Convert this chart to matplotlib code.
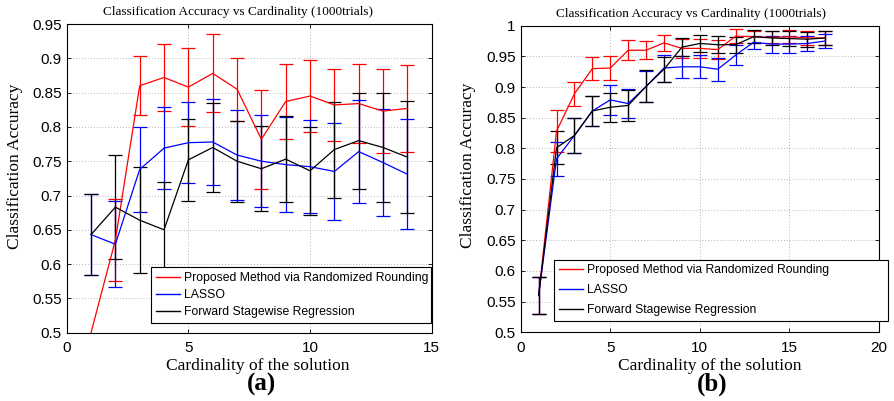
import numpy as np
import matplotlib
matplotlib.use('Agg')
import matplotlib.pyplot as plt
import matplotlib.ticker as ticker

# panel (a): cardinality 1..14
cardA = list(range(1, 15))
proposedA = [0.50, 0.635, 0.860, 0.872, 0.858, 0.878, 0.855, 0.782, 0.837, 0.845, 0.832, 0.834, 0.823, 0.827]
proposedErrA = [np.nan, 0.060, 0.043, 0.049, 0.057, 0.057, 0.046, 0.072, 0.055, 0.052, 0.053, 0.058, 0.061, 0.063]
lassoA = [0.643, 0.629, 0.738, 0.769, 0.777, 0.778, 0.759, 0.750, 0.745, 0.742, 0.735, 0.764, 0.748, 0.731]
lassoErrA = [0.059, 0.063, 0.062, 0.060, 0.059, 0.062, 0.066, 0.067, 0.069, 0.068, 0.071, 0.075, 0.078, 0.080]
forwardA = [0.643, 0.683, 0.664, 0.650, 0.752, 0.770, 0.750, 0.739, 0.753, 0.736, 0.767, 0.780, 0.770, 0.756]
forwardErrA = [0.059, 0.076, 0.077, 0.070, 0.060, 0.065, 0.059, 0.062, 0.063, 0.064, 0.070, 0.070, 0.079, 0.082]

# panel (b): cardinality 1..17
cardB = list(range(1, 18))
proposedB = [0.560, 0.828, 0.889, 0.930, 0.931, 0.960, 0.960, 0.972, 0.963, 0.963, 0.961, 0.983, 0.982, 0.981, 0.982, 0.980, 0.980]
proposedErrB = [0.030, 0.034, 0.020, 0.019, 0.020, 0.016, 0.015, 0.013, 0.015, 0.015, 0.016, 0.011, 0.010, 0.010, 0.011, 0.011, 0.011]
lassoB = [0.560, 0.783, 0.821, 0.861, 0.879, 0.873, 0.901, 0.931, 0.933, 0.933, 0.929, 0.952, 0.973, 0.970, 0.970, 0.971, 0.975]
lassoErrB = [0.030, 0.028, 0.028, 0.025, 0.024, 0.024, 0.025, 0.022, 0.018, 0.019, 0.019, 0.016, 0.011, 0.014, 0.014, 0.013, 0.011]
forwardB = [0.560, 0.801, 0.821, 0.861, 0.867, 0.870, 0.901, 0.929, 0.965, 0.971, 0.969, 0.969, 0.982, 0.980, 0.979, 0.978, 0.980]
forwardErrB = [0.030, 0.027, 0.028, 0.025, 0.024, 0.025, 0.026, 0.020, 0.015, 0.014, 0.014, 0.013, 0.011, 0.011, 0.012, 0.012, 0.011]

seriesNames = ['Proposed Method via Randomized Rounding', 'LASSO', 'Forward Stagewise Regression']
seriesColors = ['#ff0000', '#0000ff', '#000000']
titleText = 'Classification Accuracy vs Cardinality (1000trials)'
xLabelText = 'Cardinality of the solution'
yLabelText = 'Classification Accuracy'

W, H = 894, 401
fig = plt.figure(figsize=(W / 100, H / 100), dpi=100)

serifFont = 'Liberation Serif'
sansFont = 'Liberation Sans'


def pxAxes(left, top, right, bottom):
    return fig.add_axes([left / W, 1 - bottom / H, (right - left) / W, (bottom - top) / H])


def drawPanel(ax, card, values, errors, xMax, yMin, yMax, yStep, legendBox, legendSpacing, legendSize):
    handles = []
    for y, e, c, name in zip(values, errors, seriesColors, seriesNames):
        h = ax.errorbar(card, y, yerr=e, color=c, linewidth=0.9, elinewidth=0.9,
                        capsize=4.8, capthick=0.9, label=name)
        handles.append(h)
    ax.set_xlim(0, xMax)
    ax.set_ylim(yMin, yMax)
    ax.xaxis.set_major_locator(ticker.MultipleLocator(5))
    ax.yaxis.set_major_locator(ticker.MultipleLocator(yStep))
    fmt = ticker.FuncFormatter(lambda v, p: '%g' % round(v, 4))
    ax.xaxis.set_major_formatter(fmt)
    ax.yaxis.set_major_formatter(fmt)
    ax.tick_params(direction='in', length=3, width=0.6, top=True, right=True, labelsize=11)
    ax.tick_params(axis='x', pad=6)
    ax.tick_params(axis='y', pad=3.5)
    for lab in ax.get_xticklabels() + ax.get_yticklabels():
        lab.set_fontname(sansFont)
    ax.grid(True, linestyle=(0, (1, 2.5)), linewidth=0.6, color='#a0a0a0')
    for s in ax.spines.values():
        s.set_linewidth(0.8)
        s.set_color('k')

    leg = ax.legend(handles=[h.lines[0] for h in handles], labels=seriesNames,
                    loc='lower left', bbox_to_anchor=legendBox, mode='expand',
                    prop={'family': sansFont, 'size': legendSize}, frameon=True, fancybox=False,
                    framealpha=1.0, borderpad=0.4, labelspacing=legendSpacing,
                    handlelength=2.0, handletextpad=0.35, borderaxespad=0.0)
    leg.get_frame().set_edgecolor('k')
    leg.get_frame().set_linewidth(0.8)
    for line in leg.get_lines():
        line.set_linewidth(1.0)


axA = pxAxes(66.7, 24.0, 431.7, 332.7)
drawPanel(axA, cardA, [proposedA, lassoA, forwardA], [proposedErrA, lassoErrA, forwardErrA],
          15, 0.5, 0.95, 0.05, (0.230, 0.032, 0.768, 0.169), 0.4, 8.8)

axB = pxAxes(520.7, 25.7, 879.0, 332.3)
drawPanel(axB, cardB, [proposedB, lassoB, forwardB], [proposedErrB, lassoErrB, forwardErrB],
          20, 0.5, 1.0, 0.05, (0.093, 0.038, 0.931, 0.207), 0.64, 8.7)

# titles, axis labels and panel tags placed in pixel positions
fig.text(238.5 / W, 1 - 12 / H, titleText, ha='center', va='center', fontname=serifFont, fontsize=9.5)
fig.text(691 / W, 1 - 13.5 / H, titleText, ha='center', va='center', fontname=serifFont, fontsize=9.5)
fig.text(257.5 / W, 1 - 366.5 / H, xLabelText, ha='center', va='center', fontname=serifFont, fontsize=12.5)
fig.text(710 / W, 1 - 365.5 / H, xLabelText, ha='center', va='center', fontname=serifFont, fontsize=12.5)
fig.text(15 / W, 1 - 166 / H, yLabelText, ha='center', va='center', rotation=90, fontname=serifFont, fontsize=12.5)
fig.text(468 / W, 1 - 165 / H, yLabelText, ha='center', va='center', rotation=90, fontname=serifFont, fontsize=12.5)
fig.text(261 / W, 1 - 384 / H, '(a)', ha='center', va='center', fontname=serifFont, fontweight='bold', fontsize=18)
fig.text(712 / W, 1 - 384 / H, '(b)', ha='center', va='center', fontname=serifFont, fontweight='bold', fontsize=18)

fig.savefig('out.png', dpi=100)
